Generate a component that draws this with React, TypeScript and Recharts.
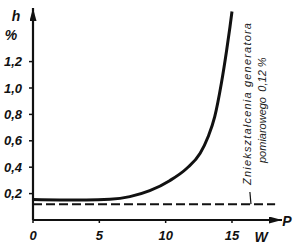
import React from 'react';
import { LineChart, Line, XAxis, YAxis, ReferenceLine } from 'recharts';

// generator output P (W) vs distortion h (%)
const powerW = [0, 2, 4, 5.8, 7.3, 8.8, 10.3, 11.6, 12.6, 13.2, 13.7, 14.2, 14.6, 14.85, 15];
const distortion = [0.155, 0.152, 0.152, 0.157, 0.177, 0.222, 0.298, 0.392, 0.505, 0.631, 0.783, 1.036, 1.288, 1.464, 1.58];

// generator's own distortion level
const generatorP = [0, 18.25];
const generatorH = [0.12, 0.12];

const xTicks = [0, 5, 10, 15];
const yTicks = [0.2, 0.4, 0.6, 0.8, 1.0, 1.2];
const xMax = 18.77;
const yMax = 1.606;

const curveData = powerW.map((p, i) => ({ p, h: distortion[i] }));
const generatorData = generatorP.map((p, i) => ({ p, h: generatorH[i] }));

const tickFont = {
  fontFamily: '"Liberation Sans Narrow", "Liberation Sans", sans-serif',
  fontStyle: 'italic',
  fontWeight: 700,
  fontSize: 13,
  fill: '#111',
};

const fmt = (v: number) => v.toFixed(1).replace('.', ',');

const App: React.FC = () => {
  return (
    <div style={{ position: 'absolute', left: 0, top: 0, width: 300, height: 245, background: '#fff' }}>
      <svg width={0} height={0} style={{ position: 'absolute' }}>
        <defs>
          <marker id="arrow" markerUnits="userSpaceOnUse" markerWidth={13} markerHeight={7}
            refX={13} refY={3.5} orient="auto-start-reverse">
            <path d="M0,0 L13,3.5 L0,7 Z" fill="#111" />
          </marker>
        </defs>
      </svg>
      <LineChart width={300} height={245} margin={{ top: 8, right: 18, bottom: 0, left: 0 }}>
        <XAxis
          dataKey="p"
          type="number"
          domain={[0, xMax]}
          ticks={xTicks}
          allowDataOverflow
          height={25}
          tickSize={3}
          tickMargin={8}
          tick={tickFont}
          tickLine={{ stroke: '#111', strokeWidth: 1.5 }}
          axisLine={{ stroke: '#111', strokeWidth: 2.2, markerEnd: 'url(#arrow)' }}
        />
        <YAxis
          type="number"
          domain={[0, yMax]}
          ticks={yTicks}
          allowDataOverflow
          width={33}
          tickSize={4}
          tickMargin={7}
          tickFormatter={fmt}
          tick={tickFont}
          tickLine={{ stroke: '#111', strokeWidth: 1.5 }}
          axisLine={{ stroke: '#111', strokeWidth: 2.2, markerStart: 'url(#arrow)' }}
        />
        <Line
          data={generatorData}
          dataKey="h"
          type="linear"
          stroke="#111"
          strokeWidth={2}
          strokeDasharray="9 4"
          dot={false}
          isAnimationActive={false}
        />
        <Line
          data={curveData}
          dataKey="h"
          type="monotone"
          stroke="#111"
          strokeWidth={3}
          dot={false}
          isAnimationActive={false}
        />
        <ReferenceLine
          segment={[{ x: 16.43, y: 0.12 }, { x: 16.35, y: 0.212 }]}
          stroke="#111"
          strokeWidth={1.2}
        />
      </LineChart>
      <svg width={300} height={245} style={{ position: 'absolute', left: 0, top: 0, pointerEvents: 'none' }}>
        <g style={{ ...tickFont, fontSize: 14 }}>
          <text x={16} y={16} textAnchor="middle" dominantBaseline="central">h</text>
          <text x={11} y={35} textAnchor="middle" dominantBaseline="central">%</text>
          <text x={287} y={221} textAnchor="middle" dominantBaseline="central">P</text>
          <text x={261} y={237} textAnchor="middle" dominantBaseline="central">W</text>
        </g>
        <g style={{ fontFamily: '"Liberation Sans Narrow", "Liberation Sans", sans-serif', fontStyle: 'italic', fontSize: 11, fill: '#222' }}>
          <text transform="translate(247,104) rotate(-90)" textAnchor="middle" dominantBaseline="central"
            textLength={162} lengthAdjust="spacing">Zniekształcenia generatora</text>
          <text transform="translate(262,130) rotate(-90)" textAnchor="middle" dominantBaseline="central"
            textLength={66} lengthAdjust="spacing">pomiarowego</text>
          <text transform="translate(262,74.5) rotate(-90)" textAnchor="middle" dominantBaseline="central">0,12 %</text>
        </g>
      </svg>
    </div>
  );
};

export default App;
